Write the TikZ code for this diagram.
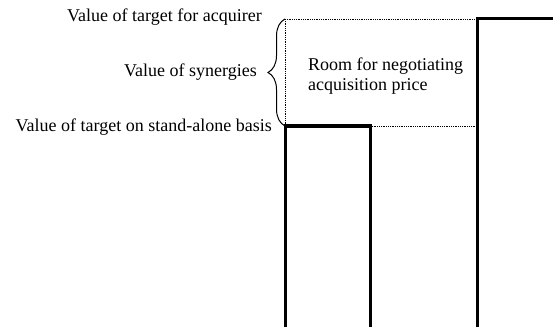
\documentclass[tikz,border=0pt]{standalone}
\usepackage{fontspec}
\setmainfont{Liberation Serif}
\usetikzlibrary{decorations.pathreplacing}

\begin{document}
\begin{tikzpicture}[
        x=1pt, y=1pt,
        bar/.style={line width=3pt},
        guide/.style={line width=0.8pt, densely dotted},
        curly/.style={line width=1pt, decorate, decoration={brace, amplitude=17pt}},
        every node/.style={font=\fontsize{18}{20}\selectfont, inner sep=0pt}
    ]

        \useasboundingbox (0,0) rectangle (553,327);

        % corners of the two bars
        \coordinate (alonetop) at (285,201);
        \coordinate (alonecorner) at (370,201);
        \coordinate (acquirertop) at (477,308);
        \coordinate (synergytop) at (285,308);

        % dotted guides
        \draw[guide] (synergytop) -- (acquirertop);
        \draw[guide] (synergytop) -- (alonetop);
        \draw[guide] (alonecorner) -- (alonecorner -| acquirertop);

        % bars
        \draw[bar] (285,0) -- (alonetop) -- (alonecorner) -- (370,0);
        \draw[bar] (477,0) -- (acquirertop) -- (553,308);

        % brace
        \draw[curly] (alonetop) -- (synergytop);

        % labels
        \node[anchor=base east] (acquirer) at (262,305) {Value of target for acquirer};
        \node[anchor=base east] (synergies) at (257,250) {Value of synergies};
        \node[anchor=base east] (standalone) at (272,196) {Value of target on stand-alone basis};
        \node[anchor=north west, align=left] (room) at (308,269) {Room for negotiating\\acquisition price};

    \end{tikzpicture}
\end{document}
